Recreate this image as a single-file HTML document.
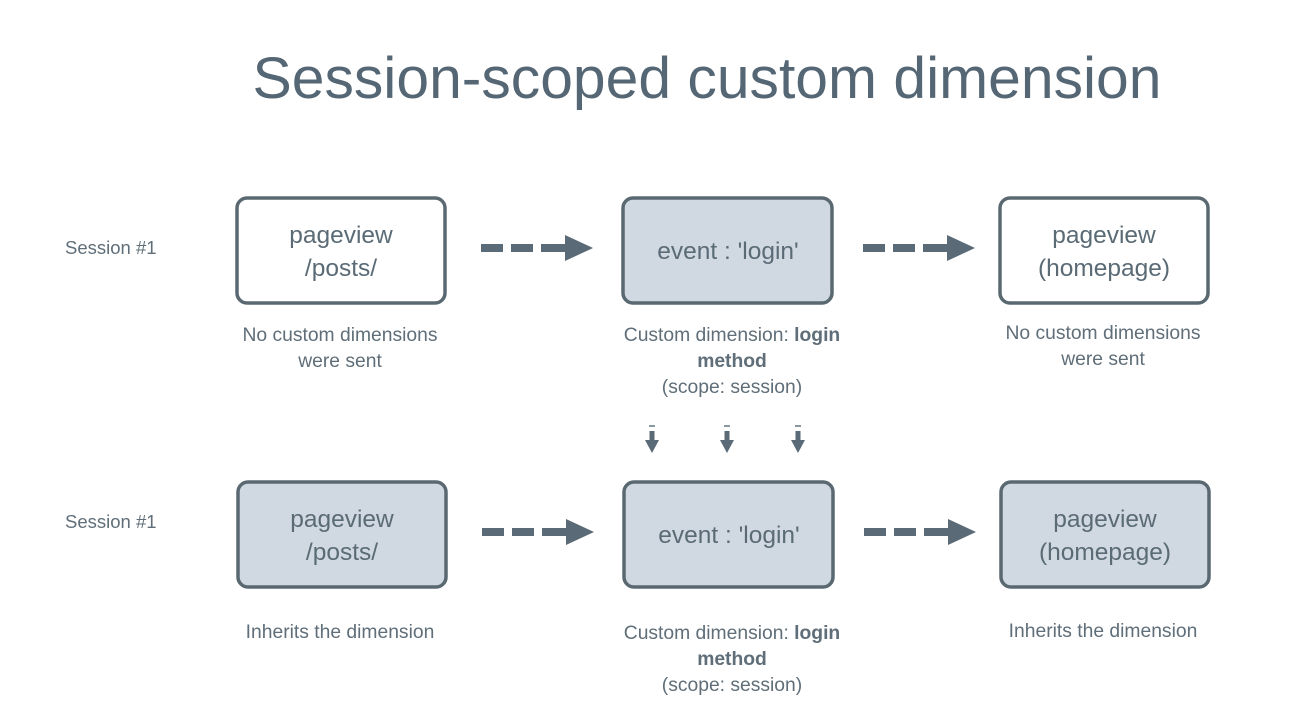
<!DOCTYPE html>
<html><head><meta charset="utf-8"><style>
html,body{margin:0;padding:0;background:#fff;}
svg{display:block;}
text{font-family:"Liberation Sans",sans-serif;}
</style></head><body>
<svg width="1301" height="709" viewBox="0 0 1301 709" xmlns="http://www.w3.org/2000/svg">
<defs>
<g id="arr">
<rect x="0" y="-4" width="22" height="8" fill="#5a6a76"/>
<rect x="30" y="-4" width="22" height="8" fill="#5a6a76"/>
<rect x="60" y="-4" width="26" height="8" fill="#5a6a76"/>
<polygon points="84,-13 112,0 84,13" fill="#5a6a76"/>
</g>
<g id="sarr">
<rect x="-3" y="0" width="6" height="2" fill="#8a98a2"/>
<rect x="-2.5" y="6" width="5" height="12" fill="#5a6a76"/>
<polygon points="-7,15 7,15 0,28" fill="#5a6a76"/>
</g>
</defs>
<text x="707" y="98" font-size="58" fill="#556674" text-anchor="middle" textLength="909" lengthAdjust="spacingAndGlyphs">Session-scoped custom dimension</text>

<g fill="#5f6e78" font-size="18.5">
<text x="65" y="254">Session #1</text>
<text x="65" y="528">Session #1</text>
</g>

<g stroke="#5a6872" stroke-width="3.5">
<rect x="237" y="198" width="208" height="105" rx="10" fill="#fff"/>
<rect x="623" y="198" width="209" height="105" rx="10" fill="#d0d9e1"/>
<rect x="1000" y="198" width="208" height="105" rx="10" fill="#fff"/>
<rect x="238" y="482" width="208" height="105" rx="10" fill="#d0d9e1"/>
<rect x="624" y="482" width="209" height="105" rx="10" fill="#d0d9e1"/>
<rect x="1001" y="482" width="208" height="105" rx="10" fill="#d0d9e1"/>
</g>

<g fill="#5b6b76" font-size="24.5" text-anchor="middle">
<text x="341" y="243">pageview</text>
<text x="341" y="276">/posts/</text>
<text x="728" y="259">event : 'login'</text>
<text x="1104" y="243">pageview</text>
<text x="1104" y="276">(homepage)</text>
<text x="342" y="527">pageview</text>
<text x="342" y="560">/posts/</text>
<text x="729" y="543">event : 'login'</text>
<text x="1105" y="527">pageview</text>
<text x="1105" y="560">(homepage)</text>
</g>

<use href="#arr" x="481" y="248"/>
<use href="#arr" x="863" y="248"/>
<use href="#arr" x="482" y="532"/>
<use href="#arr" x="864" y="532"/>

<use href="#sarr" x="652" y="425"/>
<use href="#sarr" x="727" y="425"/>
<use href="#sarr" x="798" y="425"/>

<g fill="#5f6e78" font-size="19.3" text-anchor="middle">
<text x="340" y="341">No custom dimensions</text>
<text x="340" y="367">were sent</text>
<text x="732" y="341">Custom dimension: <tspan font-weight="bold">login</tspan></text>
<text x="732" y="367" font-weight="bold">method</text>
<text x="732" y="393">(scope: session)</text>
<text x="1103" y="339">No custom dimensions</text>
<text x="1103" y="365">were sent</text>
<text x="340" y="638">Inherits the dimension</text>
<text x="732" y="639">Custom dimension: <tspan font-weight="bold">login</tspan></text>
<text x="732" y="665" font-weight="bold">method</text>
<text x="732" y="691">(scope: session)</text>
<text x="1103" y="637">Inherits the dimension</text>
</g>
</svg>
</body></html>
